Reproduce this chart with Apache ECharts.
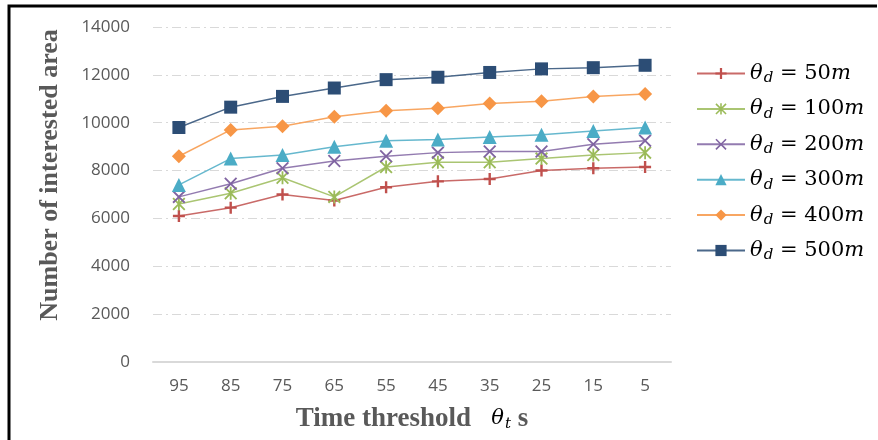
<!DOCTYPE html>
<html><head><meta charset="utf-8">
<script src="https://cdn.jsdelivr.net/npm/echarts@6/dist/echarts.min.js"></script>
<style>html,body{margin:0;padding:0;background:#fff}#c{width:878px;height:440px}</style>
</head><body><div id="c"></div>
<script>
const categories = ['95','85','75','65','55','45','35','25','15','5'];
const s50  = [6100, 6450, 7000, 6750, 7300, 7550, 7650, 8000, 8100, 8150];
const s100 = [6600, 7050, 7700, 6900, 8150, 8350, 8350, 8500, 8650, 8750];
const s200 = [6900, 7450, 8100, 8400, 8600, 8750, 8800, 8800, 9100, 9250];
const s300 = [7400, 8500, 8650, 9000, 9250, 9300, 9400, 9500, 9650, 9800];
const s400 = [8600, 9700, 9850, 10250, 10500, 10600, 10800, 10900, 11100, 11200];
const s500 = [9800, 10650, 11100, 11450, 11800, 11900, 12100, 12250, 12300, 12400];
const seriesNames = ['50','100','200','300','400','500'];
const yTicks = {min: 0, max: 14000, interval: 2000};

const plusPath = 'path://M4,0H6V4H10V6H6V10H4V6H0V4H4Z';
const xPath = 'path://M1,0L5,4L9,0L10,1L6,5L10,9L9,10L5,6L1,10L0,9L4,5L0,1Z';
const starPath = 'path://M1,0L5,4L9,0L10,1L6,5L10,9L9,10L5,6L1,10L0,9L4,5L0,1Z M4.3,0H5.7V10H4.3Z';

const defs = [
  {data: s50,  color: '#C0504D', symbol: plusPath, size: 12},
  {data: s100, color: '#9BBB59', symbol: starPath, size: 13},
  {data: s200, color: '#8064A2', symbol: xPath, size: 13},
  {data: s300, color: '#4BACC6', symbol: 'triangle', size: 14},
  {data: s400, color: '#F79646', symbol: 'diamond', size: 14},
  {data: s500, color: '#2C4D75', symbol: 'rect', size: 13}
];

const chart = echarts.init(document.getElementById('c'), null, {renderer: 'canvas'});
chart.setOption({
  animation: false,
  backgroundColor: '#fff',
  grid: {left: 153, right: 207, top: 27, bottom: 78},
  legend: {
    orient: 'vertical', left: 691, top: 58,
    itemWidth: 48, itemHeight: 14, itemGap: 12.4,
    data: seriesNames.map(n => 'θ' + n),
    formatter: function (name) {
      const v = name.slice(1);
      return '{t|θ}{s|d}{n| = ' + v + '}{i|m}';
    },
    textStyle: {
      rich: {
        t: {fontFamily: 'DejaVu Serif', fontStyle: 'italic', fontSize: 21, color: '#000'},
        s: {fontFamily: 'DejaVu Serif', fontStyle: 'italic', fontSize: 15, color: '#000', padding: [10, 0, 0, 1]},
        n: {fontFamily: 'DejaVu Serif', fontSize: 21, color: '#000'},
        i: {fontFamily: 'DejaVu Serif', fontStyle: 'italic', fontSize: 21, color: '#000'}
      }
    }
  },
  xAxis: {
    type: 'category', data: categories, boundaryGap: true,
    axisLine: {lineStyle: {color: '#D9D9D9', width: 2}},
    axisTick: {show: false},
    axisLabel: {color: '#595959', fontFamily: 'Open Sans', fontSize: 17, margin: 16}
  },
  yAxis: {
    type: 'value', min: yTicks.min, max: yTicks.max, interval: yTicks.interval,
    axisLine: {show: false}, axisTick: {show: false},
    axisLabel: {color: '#595959', fontFamily: 'Open Sans', fontSize: 17, margin: 23, formatter: v => String(v)},
    splitLine: {lineStyle: {color: '#D9D9D9', width: 1.2, type: [9, 4, 2, 4]}}
  },
  series: defs.map((d, i) => ({
    name: 'θ' + seriesNames[i], type: 'line', data: d.data,
    symbol: d.symbol, symbolSize: d.size, showSymbol: true,
    lineStyle: {color: d.color, width: 1.5, opacity: 0.85},
    itemStyle: {color: d.color, borderWidth: 0},
    z: 2 + i
  })),
  graphic: [
    {type: 'polyline', shape: {points: [[9, 440], [9, 6], [877, 6]]}, style: {stroke: '#000', lineWidth: 3, fill: null}},
    {type: 'text', x: 50, y: 175, rotation: Math.PI / 2,
      style: {text: 'Number of interested area', font: 'bold 26px "Liberation Serif"', fill: '#595959', textAlign: 'center', textVerticalAlign: 'middle'}},
    {type: 'text', x: 412, y: 419,
      style: {
        text: '{b|Time threshold   }{t|θ}{s|t}{b| s}',
        textAlign: 'center', textVerticalAlign: 'middle',
        rich: {
          b: {fontFamily: 'Liberation Serif', fontWeight: 'bold', fontSize: 27, fill: '#595959'},
          t: {fontFamily: 'DejaVu Serif', fontStyle: 'italic', fontSize: 21, fill: '#000'},
          s: {fontFamily: 'DejaVu Serif', fontStyle: 'italic', fontSize: 15, fill: '#000', padding: [10, 0, 0, 1]}
        }
      }}
  ]
});
</script></body></html>
